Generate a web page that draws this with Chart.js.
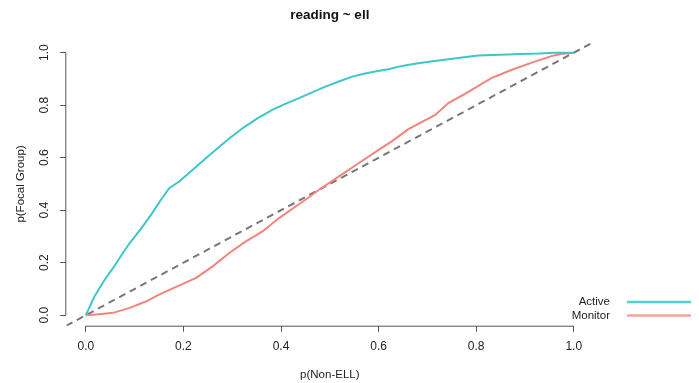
<!DOCTYPE html>
<html lang="en">
<head>
    <meta charset="UTF-8">
    <title>reading ~ ell</title>
    <script src="https://cdn.jsdelivr.net/npm/chart.js"></script>
    <style>
        html, body { margin: 0; padding: 0; background: #fff; }
        #box { width: 699px; height: 383px; }
    </style>
</head>
<body>
    <div id="box"><canvas id="rocChart"></canvas></div>
    <script>
        // values
        const activeX = [0, 0.018, 0.039, 0.056, 0.076, 0.09, 0.114, 0.134, 0.154, 0.171, 0.192, 0.219, 0.246, 0.27, 0.295, 0.321, 0.35, 0.382, 0.41, 0.437, 0.465, 0.491, 0.52, 0.546, 0.57, 0.593, 0.62, 0.641, 0.665, 0.688, 0.715, 0.743, 0.775, 0.804, 0.85, 0.892, 0.93, 0.96, 1.0];
        const activeY = [0, 0.072, 0.136, 0.18, 0.237, 0.275, 0.332, 0.383, 0.44, 0.484, 0.51, 0.554, 0.598, 0.636, 0.675, 0.712, 0.748, 0.782, 0.806, 0.827, 0.85, 0.871, 0.891, 0.909, 0.92, 0.928, 0.937, 0.947, 0.955, 0.962, 0.968, 0.975, 0.983, 0.989, 0.992, 0.995, 0.997, 1.0, 1.0];
        const monitorX = [0, 0.022, 0.056, 0.09, 0.124, 0.151, 0.185, 0.226, 0.26, 0.294, 0.328, 0.362, 0.396, 0.43, 0.45, 0.478, 0.518, 0.559, 0.6, 0.627, 0.661, 0.716, 0.743, 0.777, 0.831, 0.872, 0.92, 0.954, 0.974, 1.0];
        const monitorY = [0, 0.003, 0.009, 0.028, 0.053, 0.079, 0.108, 0.142, 0.186, 0.237, 0.281, 0.319, 0.37, 0.414, 0.44, 0.478, 0.528, 0.579, 0.63, 0.662, 0.709, 0.763, 0.808, 0.843, 0.903, 0.934, 0.966, 0.987, 0.995, 1.0];
        const refX = [-0.04, 1.04];
        const refY = [-0.04, 1.04];
        const tickValues = [0, 0.2, 0.4, 0.6, 0.8, 1.0];

        const toPoints = (xs, ys) => xs.map((x, i) => ({ x: x, y: ys[i] }));

        Chart.defaults.font.family = '"Liberation Sans", Arial, sans-serif';
        Chart.defaults.color = '#222';

        // R style axes (line only from 0 to 1) and legend to the right
        const rExtras = {
            id: 'rExtras',
            afterDraw(chart) {
                const { ctx, scales: { x, y } } = chart;
                ctx.save();
                ctx.strokeStyle = '#555';
                ctx.lineWidth = 1;
                ctx.beginPath();
                ctx.moveTo(x.getPixelForValue(0), x.top + 0.5);
                ctx.lineTo(x.getPixelForValue(1), x.top + 0.5);
                ctx.moveTo(y.right - 0.5, y.getPixelForValue(0));
                ctx.lineTo(y.right - 0.5, y.getPixelForValue(1));
                ctx.stroke();

                ctx.font = '11.5px "Liberation Sans", Arial, sans-serif';
                ctx.textAlign = 'right';
                ctx.textBaseline = 'middle';
                const rows = chart.data.datasets.filter(d => d.label);
                rows.forEach((d, i) => {
                    const yy = 302 + i * 13.5;
                    ctx.fillStyle = '#222';
                    ctx.fillText(d.label, 610, yy);
                    ctx.strokeStyle = d.legendColor;
                    ctx.lineWidth = 2.5;
                    ctx.beginPath();
                    ctx.moveTo(627, yy);
                    ctx.lineTo(691, yy);
                    ctx.stroke();
                });
                ctx.restore();
            }
        };

        const ctx = document.getElementById('rocChart').getContext('2d');
        new Chart(ctx, {
            type: 'scatter',
            data: {
                datasets: [
                    {
                        label: 'Active',
                        data: toPoints(activeX, activeY),
                        showLine: true,
                        borderColor: '#3EC6C8',
                        legendColor: '#55D0D0',
                        borderWidth: 2,
                        pointRadius: 0,
                        tension: 0
                    },
                    {
                        label: 'Monitor',
                        data: toPoints(monitorX, monitorY),
                        showLine: true,
                        borderColor: '#F0857C',
                        legendColor: '#F6A39C',
                        borderWidth: 2,
                        pointRadius: 0,
                        tension: 0
                    },
                    {
                        label: '',
                        data: toPoints(refX, refY),
                        showLine: true,
                        borderColor: '#777',
                        borderWidth: 2,
                        borderDash: [7, 5],
                        pointRadius: 0
                    }
                ]
            },
            options: {
                responsive: true,
                maintainAspectRatio: false,
                animation: false,
                events: [],
                layout: { padding: { left: 0, right: 105.7, top: 0, bottom: 0 } },
                plugins: {
                    legend: { display: false },
                    tooltip: { enabled: false },
                    title: {
                        display: true,
                        text: 'reading ~ ell',
                        color: '#111',
                        fullSize: false,
                        font: { size: 13.5, weight: 'bold' },
                        padding: { top: 6.9, bottom: 19.1 }
                    }
                },
                scales: {
                    x: {
                        type: 'linear',
                        min: -0.04,
                        max: 1.04,
                        afterBuildTicks: s => { s.ticks = tickValues.map(v => ({ value: v })); },
                        afterFit: s => { s.height = 57.3; },
                        border: { display: false },
                        grid: { drawOnChartArea: false, drawTicks: true, tickLength: 6, color: '#555' },
                        ticks: {
                            padding: 8,
                            font: { size: 12 },
                            maxRotation: 0,
                            callback: v => v.toFixed(1)
                        },
                        title: {
                            display: true,
                            text: 'p(Non-ELL)',
                            color: '#222',
                            font: { size: 11.5 },
                            padding: { top: 0, bottom: 1.1 }
                        }
                    },
                    y: {
                        type: 'linear',
                        min: -0.04,
                        max: 1.04,
                        afterBuildTicks: s => { s.ticks = tickValues.map(v => ({ value: v })); },
                        afterFit: s => { s.width = 66.3; },
                        border: { display: false },
                        grid: { drawOnChartArea: false, drawTicks: true, tickLength: 6, color: '#555' },
                        ticks: {
                            padding: 7,
                            font: { size: 12 },
                            minRotation: 90,
                            maxRotation: 90,
                            crossAlign: 'center',
                            callback: v => v.toFixed(1)
                        },
                        title: {
                            display: true,
                            text: 'p(Focal Group)',
                            color: '#222',
                            font: { size: 11.5 },
                            padding: { top: 13.5, bottom: 0 }
                        }
                    }
                }
            },
            plugins: [rExtras]
        });
    </script>
</body>
</html>
